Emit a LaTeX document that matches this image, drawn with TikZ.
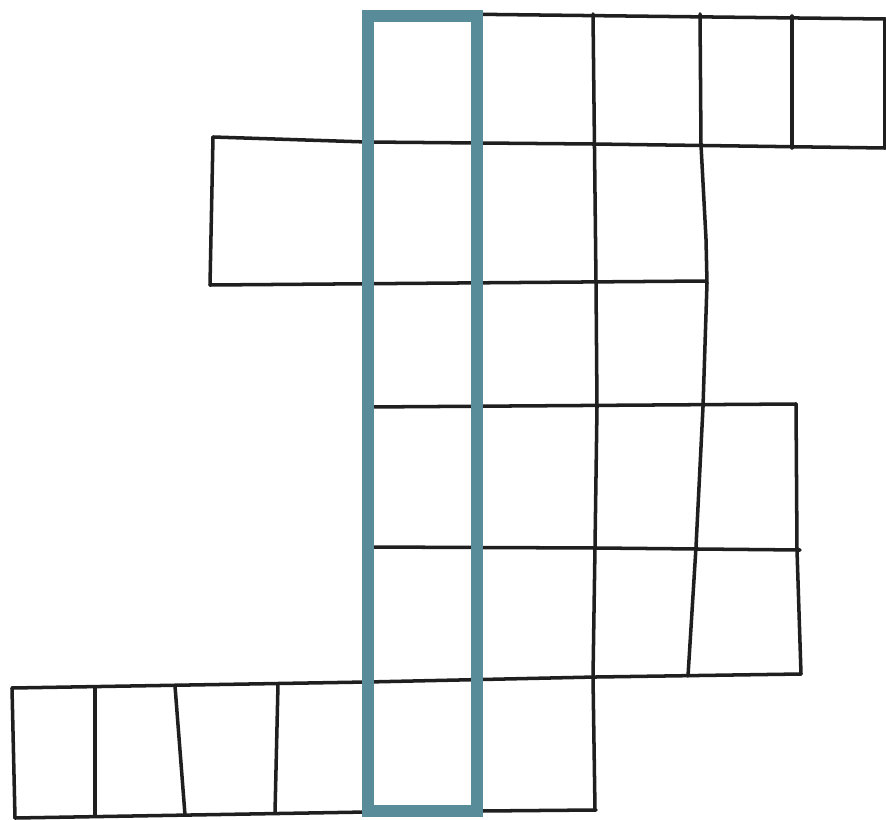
\documentclass[tikz,border=0pt]{standalone}
\usepackage{tkz-euclide}
\definecolor{FrameClr}{rgb}{0.35,0.55,0.6}
\definecolor{InkClr}{rgb}{0.12,0.12,0.12}

\begin{document}
\begin{tikzpicture}
\tkzSetUpLine[line width=1pt,color=InkClr]
\path[use as bounding box] (0,0) rectangle (8.86,8.19);

% rows
\tkzDefPoints{3.67/8.06/a1,8.85/8.00/a2}
\tkzDefPoints{2.13/6.82/b1,3.67/6.77/b2,5.93/6.75/b3,8.85/6.71/b4}
\tkzDefPoints{2.10/5.34/c1,7.06/5.38/c2}
\tkzDefPoints{3.67/4.12/d1,7.96/4.15/d2}
\tkzDefPoints{3.67/2.72/e1,5.96/2.71/e2,8.00/2.69/e3}
\tkzDefPoints{0.12/1.31/f1,3.67/1.37/f2,5.96/1.42/f3,8.01/1.45/f4}
\tkzDefPoints{0.15/0.01/g1,3.67/0.07/g2,5.96/0.09/g3}

% columns
\tkzDefPoints{5.93/8.05/p1,5.96/5.36/p2,5.97/4.12/p3,5.95/2.72/p4,5.93/1.42/p5,5.95/0.09/p6}
\tkzDefPoints{7.00/8.05/q1,7.01/6.74/q2,7.06/5.80/q3,7.07/5.36/q4,7.03/4.12/q5,6.96/2.72/q6,6.88/1.43/q7}
\tkzDefPoints{7.92/8.03/r1,7.92/6.71/r2}
\tkzDefPoints{7.96/4.15/w1,7.97/2.69/w2,8.01/1.45/w3}
\tkzDefPoints{0.95/1.32/s1,0.95/0.03/s2,1.75/1.33/t1,1.85/0.04/t2,2.78/1.35/u1,2.75/0.06/u2}

% highlighted column
\tkzDefPoints{3.68/8.03/F1,4.77/8.03/F2,4.77/0.08/F3,3.68/0.08/F4}

\tkzDrawSegments(a1,a2 c1,c2 d1,d2)
\tkzDrawPolySeg(b1,b2,b3,b4)
\tkzDrawPolySeg(e1,e2,e3)
\tkzDrawPolySeg(f1,f2,f3,f4)
\tkzDrawPolySeg(g1,g2,g3)

\tkzDrawPolySeg(p1,p2,p3,p4,p5,p6)
\tkzDrawPolySeg(q1,q2,q3,q4,q5,q6,q7)
\tkzDrawPolySeg(w1,w2,w3)
\tkzDrawSegments(r1,r2 a2,b4 b1,c1 f1,g1 s1,s2 t1,t2 u1,u2)

\tkzDrawPolygon[color=FrameClr,line width=3.3pt,line join=miter](F1,F2,F3,F4)

\end{tikzpicture}
\end{document}
